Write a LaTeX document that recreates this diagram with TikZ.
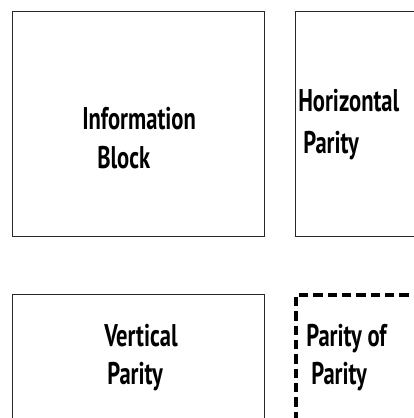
\documentclass[tikz,border=0pt]{standalone}
\usepackage{fontspec}
\setmainfont{PT Sans}[FakeStretch=0.72]
\usepackage{tikz}
\usetikzlibrary{positioning}

\tikzset{
  blockbox/.style={draw={rgb, 255:red, 40; green, 40; blue, 40}, line width=0.75, rectangle, inner sep=0pt, minimum width=189pt, minimum height=168.75pt},
  paritybox/.style={draw=black, line width=2.8, dash pattern=on 7pt off 3.75pt, rectangle, inner sep=0pt, minimum width=189pt, minimum height=168.75pt},
  lbl/.style={anchor=base west, inner sep=0.75pt, font=\fontsize{23.5}{28}\selectfont\bfseries}
}

\begin{document}
\begin{tikzpicture}[x=0.75pt,y=0.75pt,yscale=-1,xscale=1]
\path [use as bounding box, clip] (0,0) rectangle (414,418);

% Boxes
\node [blockbox] (info) at (138.7,123.5) {};
\node [blockbox] (horiz) at (421,123.5) {};
\node [blockbox] (vert) at (138.7,406.5) {};
\node [paritybox] (pp) at (422,407.5) {};

% Text Node
\node [lbl] (infotxt) at (81,129) {Information};
\node [lbl] (blocktxt) at (96,168) {Block};
% Text Node
\node [lbl] (horiztxt) at (297,111) {Horizontal};
\node [lbl] (hpartxt) at (302,153) {Parity};
% Text Node
\node [lbl] (verttxt) at (103,346) {Vertical};
\node [lbl] (vpartxt) at (106,384) {Parity};
% Text Node
\node [lbl] (pptxt) at (305,346) {Parity of};
\node [lbl] (pp2txt) at (310,384) {Parity};

\end{tikzpicture}
\end{document}
